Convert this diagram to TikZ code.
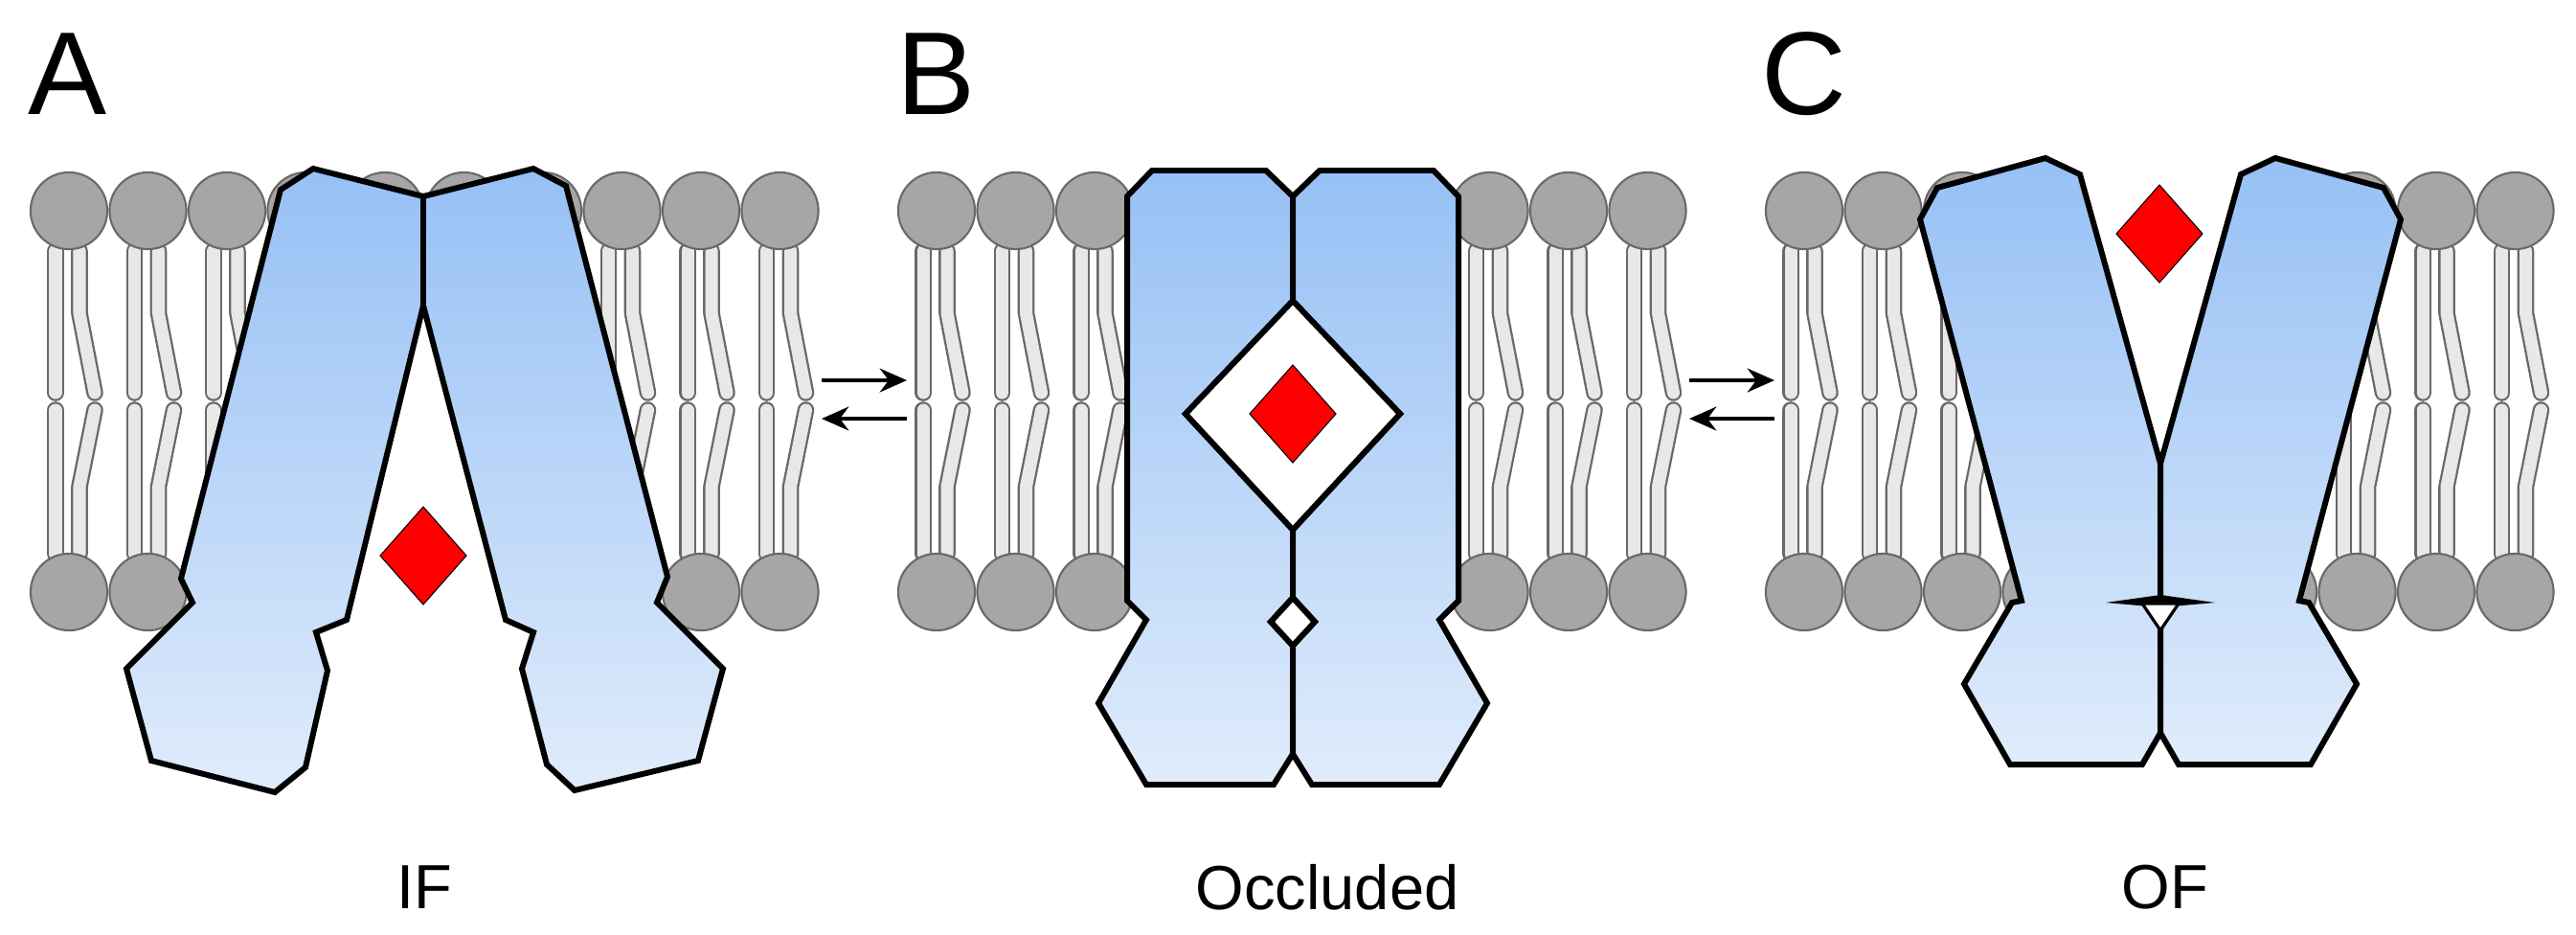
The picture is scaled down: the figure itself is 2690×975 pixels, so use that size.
\documentclass[tikz,border=0pt]{standalone}
\usepackage{fontspec}
\setmainfont{Liberation Sans}
\usetikzlibrary{arrows.meta}
\definecolor{ptop}{RGB}{150,192,245}
\definecolor{pbot}{RGB}{224,236,251}
\definecolor{headfill}{RGB}{166,166,166}
\definecolor{headline}{RGB}{105,105,105}
\definecolor{tailfill}{RGB}{232,232,232}
\tikzset{
  protein/.style={draw=black,line width=1.7pt,line join=miter,top color=ptop,bottom color=pbot},
  head/.style={circle,fill=headfill,draw=headline,line width=0.6pt,minimum size=22.8pt,inner sep=0pt},
  tailout/.style={draw=headline,line width=5pt,line cap=round,line join=round},
  tailin/.style={draw=tailfill,line width=3.7pt,line cap=round,line join=round},
  ligand/.style={fill=red,draw=black,line width=0.3pt},
  cavity/.style={fill=white,draw=none},
  pocket/.style={fill=white,draw=black,line width=1.7pt,line join=miter},
  letter/.style={font=\fontsize{35pt}{40pt}\selectfont,inner sep=0pt},
  caption/.style={font=\fontsize{18.5pt}{22pt}\selectfont,inner sep=0pt},
  eq/.style={line width=1.4pt,-{Stealth[length=8pt,width=7pt]}}
}
\newcommand{\lipid}[1]{%
  \draw[tailout] (#1-14,262)--(#1-14,410);
  \draw[tailin] (#1-14,262)--(#1-14,410);
  \draw[tailout] (#1+11,262)--(#1+11,327)--(#1+27,410);
  \draw[tailin] (#1+11,262)--(#1+11,327)--(#1+27,410);
  \draw[tailout] (#1-14,428)--(#1-14,578);
  \draw[tailin] (#1-14,428)--(#1-14,578);
  \draw[tailout] (#1+27,428)--(#1+11,508)--(#1+11,578);
  \draw[tailin] (#1+27,428)--(#1+11,508)--(#1+11,578);
  \node[head] at (#1,220) {};
  \node[head] at (#1,618) {};
}
\begin{document}
\begin{tikzpicture}[x=0.01cm,y=-0.01cm]
\useasboundingbox (0,0) rectangle (2690,975);
% lipids
\foreach \p in {0,906,1812}{
  \foreach \k in {0,...,9}{
    \pgfmathsetmacro{\hx}{72+\p+82.5*\k}
    \lipid{\hx}
  }
}
% ---------- A ----------
\fill[cavity] (442,319)--(362,647)--(330,660)--(342,700)--(319,801)--(287,827)--(600,825)--(571,798)--(545,698)--(557,660)--(528,647)--cycle;
\path[protein] (327,176)--(442,205)--(442,319)--(362,647)--(330,660)--(342,700)--(319,801)--(287,827)--(158,794)--(132,698)--(201,629)--(189,604)--(293,198)--cycle;
\path[protein] (557,176)--(591,194)--(697,602)--(686,629)--(755,698)--(729,794)--(600,825)--(571,798)--(545,698)--(557,660)--(528,647)--(442,319)--(442,205)--cycle;
\path[ligand] (442,529)--(487,580)--(442,631)--(397,580)--cycle;
% ---------- B ----------
\path[protein] (1177,205)--(1203,178)--(1322,178)--(1350,205)--(1350,314)--(1238,432)--(1350,553)--(1350,624)--(1327,649)--(1350,674)--(1350,787)--(1330,819)--(1197,819)--(1147,734)--(1197,647)--(1177,627)--cycle;
\path[protein] (1523,205)--(1497,178)--(1378,178)--(1350,205)--(1350,314)--(1462,432)--(1350,553)--(1350,624)--(1373,649)--(1350,674)--(1350,787)--(1370,819)--(1503,819)--(1553,734)--(1503,647)--(1523,627)--cycle;
\path[pocket] (1350,314)--(1462,432)--(1350,553)--(1238,432)--cycle;
\path[pocket] (1350,624)--(1373,649)--(1350,674)--(1327,649)--cycle;
\path[ligand] (1350,381)--(1395,432)--(1350,483)--(1305,432)--cycle;
% ---------- C ----------
\fill[cavity] (2172,176)--(2256,484)--(2340,176)--cycle;
\path[protein] (2005,229)--(2023,196)--(2136,165)--(2172,182)--(2256,484)--(2256,765)--(2237,798)--(2099,798)--(2051,714)--(2101,629)--(2111,627)--cycle;
\path[protein] (2507,229)--(2489,196)--(2376,165)--(2340,182)--(2256,484)--(2256,765)--(2275,798)--(2413,798)--(2461,714)--(2411,629)--(2401,627)--cycle;
\fill[black] (2199,629)--(2256,621)--(2313,629)--(2256,634)--cycle;
\path[fill=white,draw=black,line width=0.9pt] (2237,630)--(2275,630)--(2256,658)--cycle;
\path[ligand] (2255,193)--(2300,244)--(2255,295)--(2210,244)--cycle;
% arrows
\coordinate (a1) at (858,397); \coordinate (a2) at (947,397);
\coordinate (a3) at (947,437); \coordinate (a4) at (858,437);
\coordinate (b1) at (1764,397); \coordinate (b2) at (1853,397);
\coordinate (b3) at (1853,437); \coordinate (b4) at (1764,437);
\draw[eq] (a1)--(a2); \draw[eq] (a3)--(a4);
\draw[eq] (b1)--(b2); \draw[eq] (b3)--(b4);
% labels
\node[letter] (lA) at (71,77) {A};
\node[letter] (lB) at (978,77) {B};
\node[letter] (lC) at (1884,77) {C};
\node[caption] (cA) at (443,926) {IF};
\node[caption] (cB) at (1386,926) {Occluded};
\node[caption] (cC) at (2261,926) {OF};
\end{tikzpicture}
\end{document}
